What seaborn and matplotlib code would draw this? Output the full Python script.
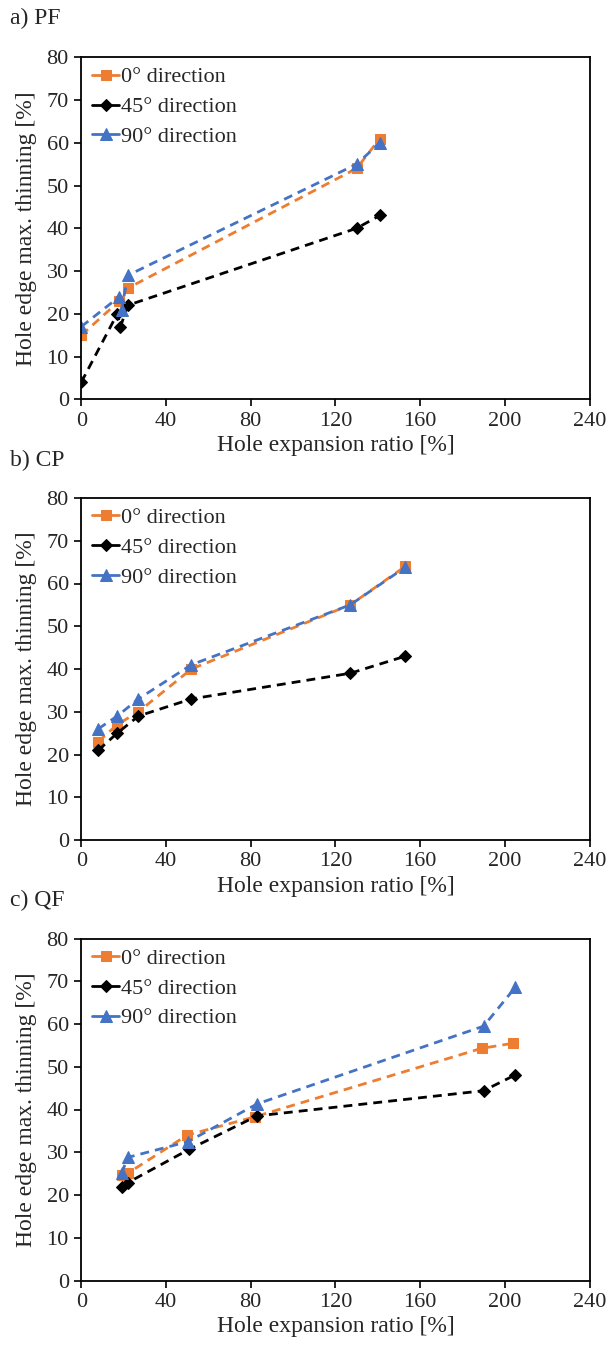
import matplotlib
matplotlib.use("Agg")
import matplotlib.pyplot as plt
import seaborn as sns
import pandas as pd

sns.set_theme(style="white")
plt.rcParams['font.family'] = ['Liberation Serif', 'DejaVu Serif']

labels = ["0° direction", "45° direction", "90° direction"]
panel_titles = ["a) PF", "b) CP", "c) QF"]

# Panel a) PF
pf_0_x = [0, 18, 22, 130, 141]
pf_0_y = [15, 23, 26, 54, 61]
pf_45_x = [0, 17, 18.5, 22, 130, 141]
pf_45_y = [4, 20, 17, 22, 40, 43]
pf_90_x = [0, 18, 19, 22, 130, 141]
pf_90_y = [17, 24, 21, 29, 55, 60]

# Panel b) CP
cp_0_x = [8, 17, 27, 52, 127, 153]
cp_0_y = [23, 27, 30, 40, 55, 64]
cp_45_x = [8, 17, 27, 52, 127, 153]
cp_45_y = [21, 25, 29, 33, 39, 43]
cp_90_x = [8, 17, 27, 52, 127, 153]
cp_90_y = [26, 29, 33, 41, 55, 63.8]

# Panel c) QF
qf_0_x = [19, 22, 50, 82, 189, 204]
qf_0_y = [24.7, 25.1, 34, 38.3, 54.3, 55.5]
qf_45_x = [19, 22, 51, 83, 190, 205]
qf_45_y = [21.9, 22.9, 30.7, 38.5, 44.4, 48.1]
qf_90_x = [19, 22, 50.5, 83, 190, 205]
qf_90_y = [25.1, 28.8, 32.5, 41.3, 59.5, 68.6]

x_ticks = [0, 40, 80, 120, 160, 200, 240]
y_ticks = [0, 10, 20, 30, 40, 50, 60, 70, 80]

panels = [
    [(pf_0_x, pf_0_y), (pf_45_x, pf_45_y), (pf_90_x, pf_90_y)],
    [(cp_0_x, cp_0_y), (cp_45_x, cp_45_y), (cp_90_x, cp_90_y)],
    [(qf_0_x, qf_0_y), (qf_45_x, qf_45_y), (qf_90_x, qf_90_y)],
]

palette = {labels[0]: "#ED7D31", labels[1]: "#000000", labels[2]: "#4472C4"}
markers = {labels[0]: "s", labels[1]: "D", labels[2]: "^"}
msizes = {labels[0]: 7, labels[1]: 6, labels[2]: 9}
dashes = {l: (3.2, 2.2) for l in labels}

W, H = 609, 1349
fig = plt.figure(figsize=(W / 100, H / 100), dpi=100)

left_px, right_px = 81.3, 589.5
tops = [57.3, 498.0, 938.5]
bottoms = [399.3, 840.0, 1280.5]
title_y = [18, 460, 900]

for i, series in enumerate(panels):
    ax = fig.add_axes([left_px / W, 1 - bottoms[i] / H,
                       (right_px - left_px) / W, (bottoms[i] - tops[i]) / H])
    rows = []
    for lab, (xs, ys) in zip(labels, series):
        for k, (xv, yv) in enumerate(zip(xs, ys)):
            rows.append({"x": xv, "y": yv, "dir": lab, "order": k})
    df = pd.DataFrame(rows)
    for lab in labels:
        sub = df[df["dir"] == lab]
        sns.lineplot(data=sub, x="x", y="y", ax=ax, color=palette[lab],
                     marker=markers[lab], markersize=msizes[lab],
                     markeredgecolor=palette[lab], linewidth=2.0,
                     sort=False, estimator=None, label=lab)
    for ln in ax.lines:
        ln.set_linestyle((0, dashes[labels[0]]))
    ax.set_xlim(0, 240)
    ax.set_ylim(0, 80)
    ax.set_xticks(x_ticks)
    ax.set_yticks(y_ticks)
    ax.tick_params(axis="both", which="both", direction="out", length=5,
                   width=1.2, color="black", labelsize=16, pad=4,
                   bottom=True, left=True)
    for s in ax.spines.values():
        s.set_color("black")
        s.set_linewidth(1.3)
        s.set_visible(True)
    ax.set_xlabel("Hole expansion ratio [%]", fontsize=17, labelpad=3)
    ax.set_ylabel("Hole edge max. thinning [%]", fontsize=17, labelpad=7)
    ax.grid(False)
    leg = ax.legend(loc="upper left", frameon=False, fontsize=16,
                    handlelength=1.2, handletextpad=0.1,
                    labelspacing=0.42, borderaxespad=0.0,
                    bbox_to_anchor=(0.004, 0.998))
    for h in leg.legend_handles:
        h.set_linestyle("-")
    fig.text(10 / W, 1 - title_y[i] / H, panel_titles[i], fontsize=17,
             ha="left", va="center")

fig.savefig("out.png", dpi=100, facecolor="white")
